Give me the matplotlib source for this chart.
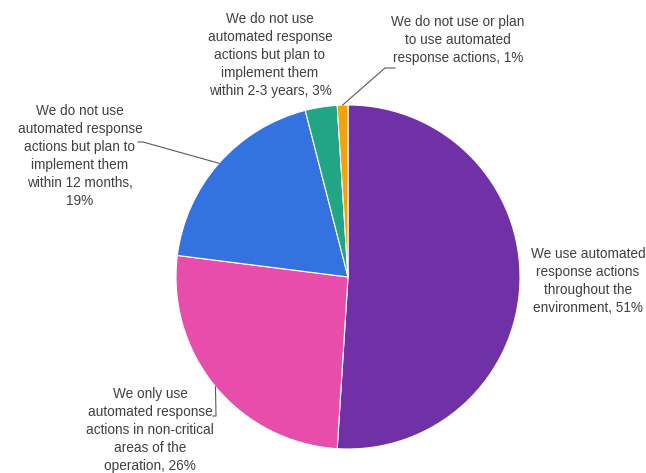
import numpy as np
import matplotlib.pyplot as plt

labels = [
    "We use automated\nresponse actions\nthroughout the\nenvironment, 51%",
    "We only use\nautomated response\nactions in non-critical\nareas of the\noperation, 26%",
    "We do not use\nautomated response\nactions but plan to\nimplement them\nwithin 12 months,\n19%",
    "We do not use\nautomated response\nactions but plan to\nimplement them\nwithin 2-3 years, 3%",
    "We do not use or plan\nto use automated\nresponse actions, 1%",
]
shares = [51, 26, 19, 3, 1]
colors = ["#7030A6", "#E84DAB", "#3473DF", "#21A584", "#F0A30C"]

plt.rcParams['font.family'] = ['Liberation Sans', 'DejaVu Sans']

fig = plt.figure(figsize=(6.46, 4.73), dpi=100)
W, H = 646, 473
cx, cy, r = 348, 277, 172
ax = fig.add_axes([(cx - r) / W, (H - cy - r) / H, 2 * r / W, 2 * r / H])

wedges, _ = ax.pie(shares, colors=colors, startangle=90, counterclock=False,
                   radius=1, wedgeprops=dict(edgecolor='white', linewidth=0.8))
ax.set_xlim(-1, 1)
ax.set_ylim(-1, 1)
ax.set_aspect('equal')
ax.axis('off')


def px(x, y):
    # pixel position -> pie data coords
    return (x - cx) / r, (cy - y) / r


# label centres and leader elbows (pixels)
label_pos = [(588, 281), (150, 430), (80, 156), (270, 55), (458, 40)]
elbows = [None, [(213, 416), (216, 416)], [(138, 142), (143, 142)], None,
          [(395, 68), (385, 68)]]

for w, lab, pos, elb in zip(wedges, labels, label_pos, elbows):
    tx, ty = px(*pos)
    ax.text(tx, ty, lab, ha='center', va='center', fontsize=9.8,
            color='#404040', linespacing=1.37, clip_on=False)
    if elb is not None:
        mid = np.deg2rad((w.theta1 + w.theta2) / 2)
        pts = [px(*p) for p in elb] + [(np.cos(mid), np.sin(mid))]
        xs, ys = zip(*pts)
        ax.plot(xs, ys, color='#595959', lw=0.8, clip_on=False)

fig.savefig('out.png', dpi=100)
